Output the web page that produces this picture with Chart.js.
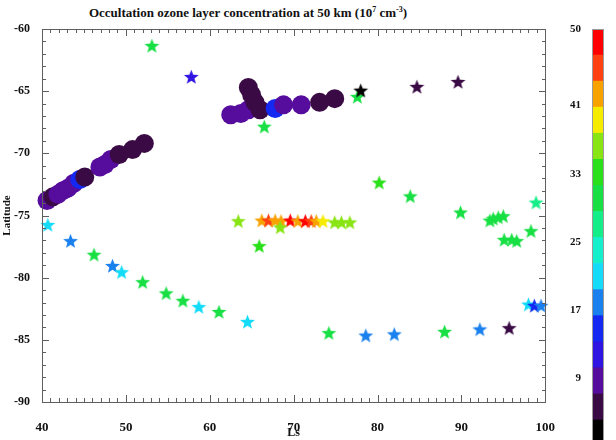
<!DOCTYPE html>
<html>
<head>
<meta charset="utf-8">
<script src="https://cdn.jsdelivr.net/npm/chart.js@4.4.1/dist/chart.umd.min.js"></script>
<style>
  body { margin: 0; width: 616px; height: 440px; overflow: hidden; background: #fff; position: relative; }
  #titulo { position: absolute; left: 0; top: 5px; width: 496px; text-align: center;
            font: bold 13px "Liberation Serif", serif; color: #111; white-space: nowrap; }
  #titulo sup { font-size: 8px; vertical-align: 5px; line-height: 0; }
  #grafico { position: absolute; left: 0; top: 0; }
  #barra { position: absolute; left: 560px; top: 0; }
</style>
</head>
<body>
<div id="titulo">Occultation ozone layer concentration at 50 km (10<sup>7</sup> cm<sup>-3</sup>)</div>
<canvas id="grafico" width="565" height="440"></canvas>
<canvas id="barra" width="56" height="460"></canvas>
<script>
// circulos (perfis grandes)
const circuloLs = [40.6, 41.3, 41.9, 42.5, 43.1, 43.8, 44.5, 45.1, 46.9, 47.5, 48.2, 49.2, 50.8, 52.2,
                   62.5, 63.7, 64.6, 64.6, 65.0, 65.4, 66.0, 67.8, 68.8, 70.9, 73.1, 74.9];
const circuloLat = [-73.8, -73.5, -73.3, -73.0, -72.8, -72.4, -72.1, -71.9, -71.1, -70.9, -70.5, -70.1, -69.7, -69.2,
                    -66.9, -66.8, -66.5, -64.7, -65.3, -65.9, -66.5, -66.4, -66.1, -66.1, -65.9, -65.6];
const circuloVal = [9, 5, 9, 9, 9, 9, 14, 5, 9, 9, 9, 5, 5, 5,
                    9, 9, 9, 5, 5, 5, 5, 14, 9, 9, 6, 6];

// estrelas
const estrelaLs = [53.1, 57.8, 77.6, 78.0, 84.7, 89.6, 66.5,
                   40.7, 43.4, 46.2, 48.4, 49.5, 52.0, 54.8, 56.8, 58.7, 61.1, 64.5,
                   63.4, 66.2, 67.0, 67.8, 68.5, 69.6, 70.5, 71.4, 72.1, 72.7, 73.5, 74.9, 75.7, 76.7, 68.4, 65.9,
                   80.2, 83.9, 89.9, 93.4, 93.8, 94.4, 95.0, 95.1, 96.0, 96.6, 98.3, 98.9,
                   98.0, 98.7, 99.5, 95.7, 92.2, 88.0, 82.0, 78.6, 74.2];
const estrelaLat = [-61.4, -63.9, -65.5, -65.0, -64.7, -64.3, -67.9,
                    -75.8, -77.1, -78.2, -79.1, -79.6, -80.4, -81.3, -81.9, -82.4, -82.8, -83.6,
                    -75.5, -75.45, -75.45, -75.45, -75.5, -75.45, -75.5, -75.5, -75.5, -75.5, -75.5, -75.6, -75.6, -75.6, -76.0, -77.5,
                    -72.4, -73.5, -74.8, -75.45, -75.3, -75.2, -75.1, -77.0, -77.0, -77.1, -76.3, -74.0,
                    -82.2, -82.3, -82.3, -84.1, -84.2, -84.4, -84.6, -84.7, -84.5];
const estrelaVal = [31, 12, 31, 2, 5, 6, 30,
                    21, 17, 30, 18, 21, 30, 30, 30, 21, 30, 20,
                    36, 42, 44, 42, 41, 48, 42, 47, 45, 42, 40, 36, 36, 35, 36, 34,
                    34, 31, 30, 29, 29, 29, 29, 29, 29, 29, 29, 27,
                    21, 14, 19, 6, 18, 29, 19, 19, 30];

// escala de cores
const corNiveis = ['#000000', '#3a0a44', '#560c9c', '#3014e2', '#1428f2', '#1a80ee', '#14dcf8', '#14f0cc',
                   '#14ee88', '#18e044', '#2ae01a', '#88e412', '#f6ec00', '#f8a200', '#ff4010', '#ff0000'];
const escalaMin = 1;
const escalaMax = 50;
const escalaTicks = [50, 41, 33, 25, 17, 9, 1];

const passo = (escalaMax - escalaMin) / corNiveis.length;
function corDe(v) {
  const i = Math.min(corNiveis.length - 1, Math.max(0, Math.floor((v - escalaMin) / passo)));
  return corNiveis[i];
}

function criaEstrela(cor) {
  const c = document.createElement("canvas");
  c.width = 17; c.height = 17;
  const g = c.getContext("2d");
  g.beginPath();
  for (let k = 0; k < 10; k++) {
    const r = k % 2 === 0 ? 7.8 : 3.3;
    const ang = -Math.PI / 2 + k * Math.PI / 5;
    const px = 8.5 + r * Math.cos(ang), py = 8.5 + r * Math.sin(ang);
    if (k === 0) g.moveTo(px, py); else g.lineTo(px, py);
  }
  g.closePath();
  g.fillStyle = cor;
  g.fill();
  return c;
}
const imgEstrela = {};
corNiveis.forEach(c => { imgEstrela[c] = criaEstrela(c); });

const fonte = "'Liberation Serif', 'Times New Roman', serif";

// limpa o estado do contexto antes de desenhar a moldura
function resetaCtx(ctx) {
  ctx.setTransform(1, 0, 0, 1, 0, 0);
  ctx.globalAlpha = 1;
  ctx.globalCompositeOperation = "source-over";
  ctx.shadowColor = "rgba(0,0,0,0)";
  ctx.shadowBlur = 0;
  ctx.filter = "none";
}

// moldura com marcas para dentro (retangulos de 1px)
const moldura = {
  id: "moldura",
  afterDraw(chart) {
    const ctx = chart.ctx;
    const a = chart.chartArea;
    const x = chart.scales.x, y = chart.scales.y;
    const L = Math.round(a.left), R = Math.round(a.right), T = Math.round(a.top), B = Math.round(a.bottom);
    ctx.save();
    resetaCtx(ctx);
    ctx.fillStyle = "#5e5e5e";
    ctx.fillRect(L, T, R - L + 1, 1);
    ctx.fillRect(L, B, R - L + 1, 1);
    ctx.fillRect(L, T, 1, B - T + 1);
    ctx.fillRect(R, T, 1, B - T + 1);
    for (let v = 40; v <= 100; v++) {
      const px = Math.round(x.getPixelForValue(v));
      const len = v % 10 === 0 ? 7 : 4;
      ctx.fillRect(px, B - len, 1, len);
      ctx.fillRect(px, T, 1, len);
    }
    for (let v = -90; v <= -60; v++) {
      const py = Math.round(y.getPixelForValue(v));
      const len = v % 5 === 0 ? 7 : 4;
      ctx.fillRect(L, py, len, 1);
      ctx.fillRect(R - len + 1, py, len, 1);
    }
    ctx.restore();
  }
};

const pontosCirculo = circuloLs.map((v, i) => ({ x: v, y: circuloLat[i] }));
const pontosEstrela = estrelaLs.map((v, i) => ({ x: v, y: estrelaLat[i] }));

new Chart(document.getElementById("grafico"), {
  type: "scatter",
  data: {
    datasets: [
      {
        label: "estrelas",
        data: pontosEstrela,
        pointStyle: ctx => imgEstrela[corDe(estrelaVal[ctx.dataIndex])],
        pointRadius: 8,
        clip: 12
      },
      {
        label: "circulos",
        data: pontosCirculo,
        pointStyle: "circle",
        pointRadius: 9.5,
        borderWidth: 0,
        backgroundColor: ctx => corDe(circuloVal[ctx.dataIndex]),
        clip: 12
      }
    ]
  },
  options: {
    responsive: false,
    animation: false,
    layout: { padding: { top: 29, right: 16, left: 0, bottom: 0 } },
    plugins: { legend: { display: false }, tooltip: { enabled: false } },
    scales: {
      x: {
        min: 40, max: 100,
        grid: { display: false },
        border: { display: false },
        ticks: { stepSize: 10, padding: 10, color: "#111", font: { family: fonte, size: 13, weight: "bold" } },
        title: { display: true, text: "Ls", color: "#111", padding: 0, font: { family: fonte, size: 12, weight: "bold" } },
        afterFit: s => { s.height = 38; }
      },
      y: {
        min: -90, max: -60,
        grid: { display: false },
        border: { display: false },
        ticks: { stepSize: 5, padding: 4, color: "#111", font: { family: fonte, size: 12, weight: "bold" } },
        title: { display: true, text: "Latitude", color: "#111", padding: 1, font: { family: fonte, size: 11, weight: "bold" } },
        afterFit: s => { s.width = 42; }
      }
    }
  },
  plugins: [moldura]
});

// barra de cores
const contorno = {
  id: "contorno",
  afterDraw(chart) {
    const ctx = chart.ctx;
    const a = chart.chartArea;
    const L = Math.round(a.left), R = Math.round(a.right) - 1, T = Math.round(a.top), B = Math.round(a.bottom);
    ctx.save();
    resetaCtx(ctx);
    ctx.fillStyle = "#9a9a9a";
    ctx.fillRect(L, T, R - L + 1, 1);
    ctx.fillRect(L, T, 1, B - T);
    ctx.fillRect(R, T, 1, B - T);
    ctx.restore();
  }
};

new Chart(document.getElementById("barra"), {
  type: "bar",
  data: {
    labels: [""],
    datasets: corNiveis.map((c, i) => ({
      data: [[escalaMin + i * passo, escalaMin + (i + 1) * passo]],
      backgroundColor: c,
      borderWidth: 0,
      grouped: false,
      barPercentage: 1,
      categoryPercentage: 1
    }))
  },
  options: {
    responsive: false,
    animation: false,
    layout: { padding: { top: 29, right: 12, left: 0, bottom: 14 } },
    plugins: { legend: { display: false }, tooltip: { enabled: false } },
    scales: {
      x: { display: false },
      y: {
        min: escalaMin, max: escalaMax,
        grid: { display: false },
        border: { display: false },
        afterBuildTicks: s => { s.ticks = escalaTicks.map(v => ({ value: v })); },
        ticks: { padding: 3, color: "#111", font: { family: fonte, size: 11, weight: "bold" } },
        afterFit: s => { s.width = 32; }
      }
    }
  },
  plugins: [contorno]
});
</script>
</body>
</html>
